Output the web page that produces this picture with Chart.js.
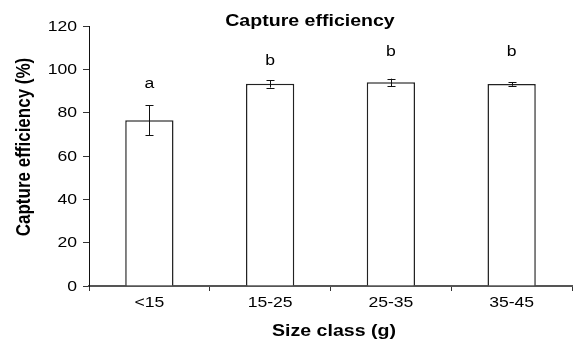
<!DOCTYPE html>
<html>
<head>
<meta charset="utf-8">
<script src="https://cdn.jsdelivr.net/npm/chart.js@4/dist/chart.umd.min.js"></script>
<style>
html,body{margin:0;padding:0;background:#fff;}
#wrap{width:579px;height:342px;position:relative;}
</style>
</head>
<body>
<div id="wrap"><canvas id="c" width="579" height="342"></canvas></div>
<script>
const categories = ["<15", "15-25", "25-35", "35-45"];
const means = [76.5, 93.3, 94.0, 93.2];
const errors = [7.0, 1.7, 1.7, 0.8];
const letters = ["a", "b", "b", "b"];
const letterHeights = [93.5, 104, 108, 108];
const yTicks = [0, 20, 40, 60, 80, 100, 120];

const FONT = "'Liberation Sans', Arial, Helvetica, sans-serif";
const STRETCH = 1.15;

function stretchText(ctx, text, x, y, font, align) {
  ctx.save();
  ctx.font = font;
  ctx.textAlign = align;
  ctx.textBaseline = 'middle';
  ctx.translate(x, y);
  ctx.scale(STRETCH, 1);
  ctx.fillText(text, 0, 0);
  ctx.restore();
}

const overlay = {
  id: 'overlay',
  afterDatasetsDraw(chart) {
    const ctx = chart.ctx;
    const xs = chart.scales.x, ys = chart.scales.y;
    ctx.save();
    // error bars
    ctx.strokeStyle = '#111';
    ctx.lineWidth = 1;
    means.forEach((m, i) => {
      const x = Math.round(xs.getPixelForValue(i)) + 0.5;
      const yt = ys.getPixelForValue(m + errors[i]);
      const yb = ys.getPixelForValue(m - errors[i]);
      ctx.beginPath();
      ctx.moveTo(x, yt); ctx.lineTo(x, yb);
      ctx.moveTo(x - 4, Math.round(yt) + 0.5); ctx.lineTo(x + 4, Math.round(yt) + 0.5);
      ctx.moveTo(x - 4, Math.round(yb) + 0.5); ctx.lineTo(x + 4, Math.round(yb) + 0.5);
      ctx.stroke();
    });
    ctx.fillStyle = '#000';
    const tickFont = '15.3px ' + FONT;
    // letters
    letters.forEach((l, i) => {
      stretchText(ctx, l, xs.getPixelForValue(i), ys.getPixelForValue(letterHeights[i]), tickFont, 'center');
    });
    // tick labels
    yTicks.forEach(v => {
      stretchText(ctx, String(v), 77, ys.getPixelForValue(v) + 0.5, tickFont, 'right');
    });
    categories.forEach((c, i) => {
      stretchText(ctx, c, xs.getPixelForValue(i), 303, tickFont, 'center');
    });
    // titles
    const titleFont = 'bold 17px ' + FONT;
    stretchText(ctx, 'Capture efficiency', 310, 21.5, titleFont, 'center');
    stretchText(ctx, 'Size class (g)', 334, 331, titleFont, 'center');
    ctx.save();
    ctx.font = titleFont;
    ctx.textAlign = 'center';
    ctx.textBaseline = 'middle';
    ctx.translate(25, 147);
    ctx.rotate(-Math.PI / 2);
    ctx.scale(1, STRETCH);
    ctx.fillText('Capture efficiency (%)', 0, 0);
    ctx.restore();
    ctx.restore();
  }
};

new Chart(document.getElementById('c'), {
  type: 'bar',
  data: {
    labels: categories,
    datasets: [{
      data: means,
      backgroundColor: '#ffffff',
      borderColor: '#222',
      borderWidth: 1.5,
      barPercentage: 0.4,
      categoryPercentage: 1.0
    }]
  },
  options: {
    responsive: false,
    animation: false,
    devicePixelRatio: 1,
    layout: { autoPadding: false, padding: { top: 26, right: 7, left: 0, bottom: 0 } },
    plugins: { legend: { display: false }, tooltip: { enabled: false }, title: { display: false } },
    scales: {
      x: {
        offset: true,
        afterFit: s => { s.height = 56; },
        grid: { offset: true, drawOnChartArea: false, drawTicks: true, tickLength: 5, color: '#555', tickColor: '#333', lineWidth: 1 },
        border: { display: true, color: '#555', width: 2 },
        ticks: { display: false }
      },
      y: {
        min: 0, max: 120,
        afterFit: s => { s.width = 89; },
        afterBuildTicks: s => { s.ticks = yTicks.map(v => ({ value: v })); },
        grid: { drawOnChartArea: false, drawTicks: true, tickLength: 6, color: '#333', tickColor: '#333' },
        border: { display: true, color: '#111', width: 1 },
        ticks: { display: false }
      }
    }
  },
  plugins: [overlay]
});
</script>
</body>
</html>
